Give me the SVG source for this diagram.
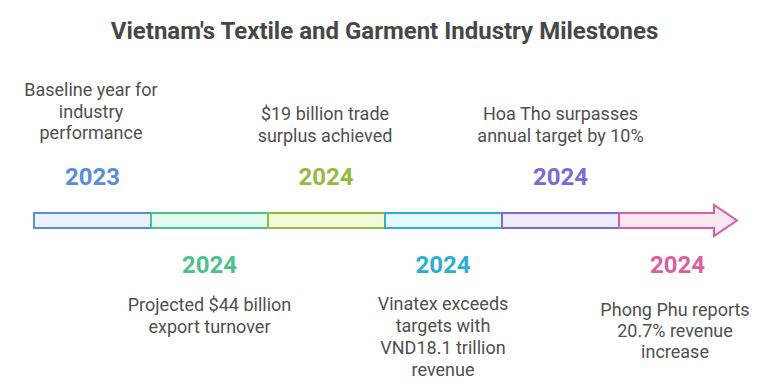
<svg xmlns="http://www.w3.org/2000/svg" width="767" height="391" viewBox="0 0 767 391">
<style>
.title{font-family:Roboto,"Liberation Sans",sans-serif;font-weight:700;font-size:24px;fill:#474747;text-anchor:middle}
.yr{font-family:Roboto,"Liberation Sans",sans-serif;font-weight:700;font-size:24px;text-anchor:middle}
.t{font-family:Roboto,"Liberation Sans",sans-serif;font-size:18px;fill:#4f4f4f;text-anchor:middle}
.seg{stroke-width:2;stroke-linejoin:miter}
</style>
<rect width="767" height="391" fill="#ffffff"/>
<text class="title" x="384.5" y="39">Vietnam's Textile and Garment Industry Milestones</text>
<g id="connectors">
<rect class="seg" x="34" y="213" width="117" height="15" fill="#eaf2fd" stroke="#5b8cd8"/>
<rect class="seg" x="151" y="213" width="117" height="15" fill="#e3fbef" stroke="#4cc18e"/>
<rect class="seg" x="268" y="213" width="117" height="15" fill="#f2fbd9" stroke="#96b93f"/>
<rect class="seg" x="385" y="213" width="117" height="15" fill="#e4f8fd" stroke="#2eafd0"/>
<rect class="seg" x="502" y="213" width="117" height="15" fill="#efebfc" stroke="#7b69d8"/>
<polygon class="seg" points="619,213 714,213 714,205 737,220.5 714,236 714,228 619,228" fill="#fde6f1" stroke="#d9609f"/>
</g>
<g id="m1">
<text class="t" x="91" y="96">Baseline year for</text>
<text class="t" x="91" y="117.5">industry</text>
<text class="t" x="91" y="139">performance</text>
<text class="yr" x="92.5" y="185" fill="#5b8cd8">2023</text>
</g>
<g id="m2">
<text class="yr" x="209.5" y="273" fill="#4cc18e">2024</text>
<text class="t" x="209.5" y="311">Projected $44 billion</text>
<text class="t" x="209.5" y="333">export turnover</text>
</g>
<g id="m3">
<text class="t" x="325" y="120">$19 billion trade</text>
<text class="t" x="325" y="142">surplus achieved</text>
<text class="yr" x="326" y="185" fill="#96b93f">2024</text>
</g>
<g id="m4">
<text class="yr" x="443" y="273" fill="#2eafd0">2024</text>
<text class="t" x="443" y="310">Vinatex exceeds</text>
<text class="t" x="443" y="332">targets with</text>
<text class="t" x="443" y="354">VND18.1 trillion</text>
<text class="t" x="443" y="376">revenue</text>
</g>
<g id="m5">
<text class="t" x="560.5" y="120">Hoa Tho surpasses</text>
<text class="t" x="560.5" y="142">annual target by 10%</text>
<text class="yr" x="560.5" y="185" fill="#7b69d8">2024</text>
</g>
<g id="m6">
<text class="yr" x="677.5" y="273" fill="#d9609f">2024</text>
<text class="t" x="675" y="316">Phong Phu reports</text>
<text class="t" x="675" y="337">20.7% revenue</text>
<text class="t" x="675" y="358">increase</text>
</g>
</svg>
